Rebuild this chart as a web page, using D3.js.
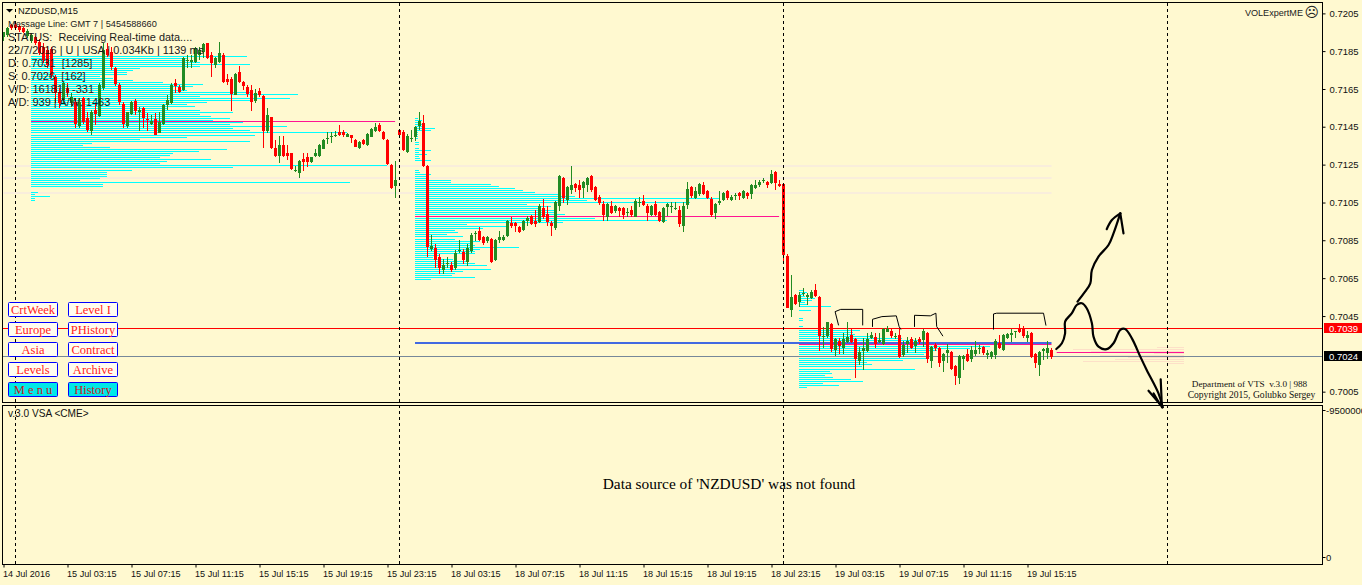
<!DOCTYPE html>
<html><head><meta charset="utf-8">
<script src="https://cdn.jsdelivr.net/npm/d3@7/dist/d3.min.js"></script>
<style>html,body{margin:0;padding:0;background:#fff9d0;overflow:hidden}svg{display:block}</style>
</head><body><svg id="c" width="1362" height="585"></svg>
<script>
// All prices in points (1e-5). Candle row = [open, close, high, low]; bar index = position in the joined list
const session15Jul = [
[71920,71943,71947,71899],[71929,71964,71973,71920],[71982,71964,71987,71955],[71982,71964,71987,71959],[71977,71956,71982,71947],
[71964,71947,71973,71938],[71924,71952,71959,71912],[71899,71929,71938,71889],[71917,71886,71924,71877],[71894,71833,71906,71824],
[71868,71798,71886,71780],[71851,71772,71868,71754],[71854,71719,71868,71702],[71707,71623,71719,71570],[71632,71570,71649,71544],
[71588,71676,71684,71570],[71649,71623,71676,71606],[71570,71606,71623,71553],[71579,71462,71597,71439],[71452,71579,71597,71439],
[71597,71474,71606,71462],[71492,71431,71527,71422],[71427,71527,71536,71404],[71536,71515,71570,71457],[71506,71667,71676,71497],
[71649,71851,71886,71640],[71854,71824,71886,71815],[71842,71763,71868,71746],[71758,71670,71763,71662],[71667,71579,71676,71562],
[71567,71462,71579,71439],[71452,71523,71527,71439],[71515,71579,71584,71509],[71583,71530,71591,71509],[71527,71536,71550,71427],
[71548,71495,71553,71439],[71488,71483,71518,71427],[71462,71478,71509,71457],[71488,71406,71518,71404],[71416,71474,71527,71413],
[71462,71560,71567,71457],[71562,71588,71614,71536],[71574,71667,71676,71567],[71676,71662,71697,71623],[71654,71632,71667,71623],
[71640,71807,71812,71637],[71791,71798,71824,71754],[71787,71798,71824,71754],[71789,71859,71868,71780],[71824,71851,71868,71798],
[71842,71880,71889,71807],[71886,71807,71889,71802],[71824,71784,71842,71707],[71772,71807,71815,71754],[71789,71836,71894,71780],
[71824,71681,71833,71676],[71698,71684,71724,71667],[71698,71620,71711,71532],[71616,71724,71731,71612],[71735,71684,71767,71676],
[71681,71663,71689,71640],[71658,71620,71667,71606],[71640,71579,71667,71532],[71581,71623,71644,71570],[71637,71614,71649,71606],
[71609,71427,71613,71334],[71425,71509,71544,71413],[71497,71334,71501,71329],[71334,71294,71378,71290],[71294,71350,71399,71256],
[71350,71294,71399,71290],[71311,71294,71352,71273],[71308,71226,71311,71220],[71215,71220,71243,71212],[71203,71268,71273,71177],
[71276,71263,71308,71215],[71287,71264,71308,71238],[71263,71287,71290,71259],[71294,71311,71331,71290],[71294,71350,71357,71290],
[71332,71378,71381,71329],[71383,71388,71422,71357],[71394,71399,71418,71360],[71401,71406,71427,71392],[71418,71404,71457,71399],
[71422,71404,71431,71392],[71395,71409,71413,71392],[71402,71387,71406,71364],[71378,71343,71381,71340],[71334,71369,71373,71331],
[71378,71357,71381,71352],[71350,71409,71413,71347],[71395,71434,71439,71392],[71425,71445,71466,71422],[71457,71427,71466,71422],
[71422,71383,71427,71378],[71378,71252,71381,71247],[71247,71124,71252,71119],[71136,71168,71268,71075]];
const session18Jul = [
[71431,71404,71434,71399],[71420,71325,71431,71322],[71315,71399,71410,71311],[71383,71390,71431,71367],[71395,71444,71451,71374],
[71452,71478,71525,71431],[71466,71241,71509,71238],[71241,70818,71247,70765],[70808,70822,70879,70797],[70809,70748,70832,70708],
[70762,70708,70780,70675],[70695,70720,70753,70675],[70727,70734,70762,70704],[70720,70695,70736,70685],[70708,70787,70801,70695],
[70794,70801,70853,70787],[70790,70748,70804,70727],[70738,70811,70832,70716],[70795,70879,70888,70787],[70885,70892,70900,70850],
[70900,70853,70921,70848],[70869,70836,70874,70827],[70848,70869,70874,70836],[70858,70738,70862,70734],[70748,70853,70858,70745],
[70853,70869,70900,70836],[70853,70869,70879,70850],[70874,70953,70958,70867],[70942,70927,70976,70914],[70942,70927,70948,70897],
[70921,70895,70927,70892],[70906,70953,70958,70900],[70953,70969,70979,70927],[70979,70937,70984,70934],[70953,70937,71011,70923],
[70948,71032,71042,70944],[71021,70974,71068,70963],[70990,70948,71032,70927],[70942,70927,70954,70874],[70916,71053,71058,70906],
[71032,71189,71193,71005],[71179,71074,71182,71046],[71063,71131,71137,71037],[71115,71142,71241,71095],[71147,71126,71151,71105],
[71142,71115,71168,71074],[71126,71157,71161,71075],[71142,71179,71182,71105],[71189,71115,71193,71105],[71131,71063,71135,71060],
[71079,71047,71089,71037],[71042,70984,71058,70953],[70976,71042,71046,70953],[71032,70995,71058,70990],[71005,71032,71037,70995],
[71021,71005,71024,70976],[71021,70984,71024,70963],[70997,71002,71021,70976],[71010,70984,71032,70974],[70976,71058,71068,70972],
[71049,71054,71079,71026],[71058,71037,71089,71032],[71032,70995,71042,70953],[70984,71032,71035,70981],[71042,70984,71058,70979],
[71000,70953,71005,70948],[70948,71021,71024,70944],[71026,71042,71046,70979],[71026,71032,71053,70995],[71016,71021,71053,71010],
[71010,70937,71032,70921],[70927,71032,71053,70895],[71037,71121,71157,71016],[71131,71084,71135,71074],[71074,71110,71130,71070],
[71095,71147,71151,71084],[71142,71095,71157,71091],[71110,71074,71114,71070],[71068,70984,71079,70974],[70995,71042,71046,70963],
[71047,71058,71110,71037],[71063,71100,71103,71060],[71110,71074,71114,71063],[71063,71079,71089,71060],[71086,71091,71100,71063],
[71100,71084,71103,71063],[71074,71110,71114,71070],[71100,71084,71103,71068],[71095,71142,71145,71068],[71126,71142,71168,71122],
[71142,71157,71168,71133],[71164,71170,71179,71152],[71157,71142,71161,71126],[71152,71199,71220,71149],[71210,71152,71214,71115],
[71147,71137,71168,71133],[71147,70774,71151,70731]];
const session19Jul = [
[70770,70498,70780,70495],[70486,70554,70668,70451],[70565,70517,70570,70514],[70528,70565,70582,70500],[70570,70577,70600,70560],
[70556,70563,70573,70512],[70547,70579,70591,70542],[70591,70559,70623,70556],[70554,70349,70558,70271],[70342,70349,70398,70285],
[70349,70421,70425,70337],[70412,70281,70416,70267],[70276,70334,70337,70245],[70323,70297,70337,70253],[70285,70332,70363,70255],
[70318,70346,70421,70314],[70355,70318,70390,70314],[70334,70229,70337,70127],[70218,70265,70293,70197],[70271,70287,70337,70171],
[70271,70334,70363,70267],[70339,70355,70369,70336],[70344,70307,70363,70288],[70320,70327,70363,70311],[70307,70386,70390,70304],
[70372,70386,70402,70369],[70376,70349,70390,70337],[70342,70349,70363,70332],[70355,70239,70390,70236],[70250,70302,70325,70241],
[70307,70323,70346,70258],[70334,70287,70346,70281],[70297,70323,70337,70262],[70334,70318,70346,70307],[70328,70376,70386,70293],
[70365,70229,70369,70206],[70218,70292,70295,70180],[70302,70287,70314,70271],[70287,70208,70290,70189],[70218,70255,70258,70162],
[70260,70276,70307,70206],[70266,70176,70269,70171],[70192,70139,70195,70092],[70129,70245,70248,70098],[70229,70245,70248,70171],
[70255,70218,70281,70215],[70229,70276,70299,70215],[70255,70276,70323,70245],[70280,70287,70302,70255],[70292,70260,70295,70250],
[70252,70259,70276,70229],[70239,70265,70269,70229],[70250,70323,70332,70229],[70313,70287,70355,70283],[70276,70355,70358,70271],
[70339,70360,70363,70335],[70356,70363,70386,70318],[70369,70374,70376,70339],[70386,70371,70412,70367],[70386,70349,70402,70339],
[70339,70355,70376,70318],[70365,70239,70369,70236],[70255,70208,70258,70183],[70197,70265,70269,70139],[70273,70280,70285,70223],
[70260,70287,70323,70229],[70276,70239,70287,70229]];

// Volume profiles: one volume per price level, from the top level downward.
// "Skip" lists the rows after which one price-grid pixel is skipped (price grid does not land evenly on pixels).
const profileStep = 10.5;
const profileATop = 71819, profileAStartBar = 6.88, profileASkip = [39,56];
const profileA = [216,156,156,169,219,169,109,102,96,96,69,82,102,132,172,162,142,156,222,267,169,259,222,176,156,164,136,169,202,169,180,199,182,212,199,256,202,219,316,224,156,109,219,61,52,79,196,168,142,139,129,180,136,129,356,202,101,76,76,76,69,49,319,72,72,0,0,7,4,19,4,4];
const profileBTop = 71494, profileBStartBar = 102.88, profileBSkip = [60];
const profileB = [3,7,4,10,10,20,16,3,3,3,3,0,4,4,0,4,16,4,12,4,5,16,0,0,0,0,4,5,16,11,12,36,36,76,84,100,108,120,144,160,305,172,275,112,136,125,140,142,150,130,180,252,148,52,92,68,40,43,32,48,40,65,57,60,104,65,60,60,25,18,38,52,60,72,35,76,48,40,37,60,16];
const profileCTop = 70590, profileCStartBar = 198.88, profileCSkip = [39];
const profileC = [4,8,4,6,16,13,6,9,32,0,12,0,0,0,4,4,0,0,4,0,61,54,56,71,103,119,101,140,191,171,138,128,125,131,128,104,68,73,63,116,31,33,26,34,52,64,24,40,8];
const profileDTop = 70291, profileDEndBar = 295.12;
const profileD = [27,111,93,30,84,56,69,101,17];

const pocLines = [[6.88,97.9,71478],[102.88,193.9,70978],[198.88,262,70307],[263.3,295.12,70264]];
const paleBands = [71242,71179,71100];
const paleStartBar = 0, paleEndBar = 262;
const redLevel = 70391, greyLevel = 70242, blueLevel = 70312, blueStartBar = 102.88, blueEndBar = 262;
const daySeparators = [3,99,195,291];

const timeTickBars = [0,16,32,48,64,80,96,112,128,144,160,176,192,208,224,240,256];
const timeTickLabels = ["14 Jul 2016","15 Jul 03:15","15 Jul 07:15","15 Jul 11:15","15 Jul 15:15","15 Jul 19:15","15 Jul 23:15","18 Jul 03:15","18 Jul 07:15","18 Jul 11:15","18 Jul 15:15","18 Jul 19:15","18 Jul 23:15","19 Jul 03:15","19 Jul 07:15","19 Jul 11:15","19 Jul 15:15"];
const priceTicks = [72043,71845,71646,71448,71249,71050,70852,70653,70454,70057];
const priceTickLabels = ["0.7205","0.7185","0.7165","0.7145","0.7125","0.7105","0.7085","0.7065","0.7045","0.7005"];
const infoLines = ["Message Line: GMT 7 | 5454588660","STATUS:  Receiving Real-time data....","22/7/2016 | U | USA | 0.034Kb | 1139 ms","D: 0.7031  [1285]","S: 0.7026  [162]","V/D: 16181 | -331","A/D: 939 | A/W: 1463"];
const buttonCol1 = ["CrtWeek","Europe","Asia","Levels","M e n u"];
const buttonCol2 = ["Level I","PHistory","Contract","Archive","History"];

// Hand-drawn pen strokes: [bar, price]
const penThick = [
 [[263.2,70281],[264.6,70311],[265.4,70363],[265.4,70425],[267.1,70469],[268.3,70512],[269.6,70521],[270.8,70495],[272.1,70416],[272.5,70346],[273.75,70293],[275.8,70280],[277.5,70311],[279.2,70381],[280.4,70386],[282.1,70337],[284.2,70241],[285.8,70171],[288.75,70048],[289.8,69975]],
 [[268.5,70530],[270.4,70582],[271.7,70626],[272.1,70696],[273.75,70766],[276.25,70827],[277.5,70888],[279.2,70993]],
 [[279.2,70993],[280,70888]],
 [[279.2,70993],[277.1,70958],[275.8,70910]],
 [[289.3,70122],[289.6,69975]],
 [[286.25,70062],[289.8,69975]],
 [[287.5,70048],[289.2,69987]]];
const penThin = [
 [[208.75,70407],[207.9,70477],[209.3,70489],[214.8,70489],[214.8,70407]],
 [[217.25,70399],[217.25,70437],[219.6,70451],[223.2,70455],[223.9,70399],[224.3,70385]],
 [[227.75,70399],[227.75,70458],[231.7,70455],[233.1,70469],[233.3,70399],[234.8,70350]],
 [[247.5,70385],[247.5,70465],[248.3,70469],[260,70469],[260.6,70406]]];

const candles = session15Jul.concat(session18Jul, session19Jul);
const UP="#228b22", DOWN="#ff0000", CYAN="#00ffff", SANS="'Liberation Sans',sans-serif", SERIF="'Liberation Serif',serif";

const svg = d3.select("#c");
const x = d3.scaleLinear().domain([0,1]).range([3.5,7.5]);
const y = d3.scaleLinear().domain([70050,71100]).range([393,193]);
const vol = d3.scaleLinear().domain([0,100]).range([0,100]);
const RIGHT=1322.5, MAINB=402.5, SUBT=405.5, SUBB=564.5;

svg.append("defs").append("clipPath").attr("id","main").append("rect").attr("x",3).attr("y",3).attr("width",RIGHT-3).attr("height",MAINB-3);
const plot = svg.append("g").attr("clip-path","url(#main)");

// pale bands
plot.selectAll(".band").data(paleBands).join("rect")
 .attr("x",x(paleStartBar)).attr("width",x(paleEndBar)-x(paleStartBar)).attr("y",d=>Math.round(y(d))-1).attr("height",2).attr("fill","#f9eedc");

// profiles
function profile(rows,top,startBar,skip){
 plot.append("g").attr("shape-rendering","crispEdges").selectAll("rect").data(rows).join("rect")
  .attr("x",Math.round(x(startBar))).attr("y",(d,i)=>Math.round(y(top-profileStep*i))+skip.filter(s=>i>=s).length)
  .attr("width",d=>vol(d)).attr("height",1).attr("fill",CYAN);
}
profile(profileA,profileATop,profileAStartBar,profileASkip);
profile(profileB,profileBTop,profileBStartBar,profileBSkip);
profile(profileC,profileCTop,profileCStartBar,profileCSkip);

// levels
plot.append("rect").attr("x",3).attr("width",RIGHT-3).attr("y",Math.round(y(redLevel))).attr("height",1).attr("fill","#ff0000");
plot.append("rect").attr("x",3).attr("width",RIGHT-3).attr("y",Math.round(y(greyLevel))).attr("height",1).attr("fill","#778899");
plot.append("g").attr("shape-rendering","crispEdges").selectAll("rect").data(profileD).join("rect")
 .attr("x",d=>x(profileDEndBar)-vol(d)).attr("y",(d,i)=>Math.round(y(profileDTop-profileStep*i)))
 .attr("width",d=>vol(d)).attr("height",1).attr("fill","#fde0c8");
plot.append("rect").attr("x",x(blueStartBar)).attr("width",x(blueEndBar)-x(blueStartBar)).attr("y",Math.round(y(blueLevel))-1).attr("height",2).attr("fill","#4169e1");
plot.append("g").selectAll("rect").data(pocLines).join("rect")
 .attr("x",d=>x(d[0])).attr("width",d=>x(d[1])-x(d[0])).attr("y",d=>Math.round(y(d[2]))).attr("height",1).attr("fill","#ff1493");

// candles
const cg = plot.append("g").attr("shape-rendering","crispEdges");
cg.selectAll(".w").data(candles).join("rect")
 .attr("x",(d,i)=>Math.floor(x(i))).attr("width",1)
 .attr("y",d=>y(d[2])).attr("height",d=>Math.max(1,y(d[3])-y(d[2])))
 .attr("fill",d=>d[1]>=d[0]?UP:DOWN);
cg.selectAll(".b").data(candles).join("rect")
 .attr("x",(d,i)=>Math.floor(x(i))-1).attr("width",3)
 .attr("y",d=>y(Math.max(d[0],d[1]))).attr("height",d=>Math.max(1,Math.abs(y(d[0])-y(d[1]))))
 .attr("fill",d=>d[1]>=d[0]?UP:DOWN);

// day separators
svg.append("g").selectAll("line").data(daySeparators).join("line")
 .attr("x1",d=>x(d)).attr("x2",d=>x(d)).attr("y1",3).attr("y2",SUBB)
 .attr("stroke","#000").attr("stroke-width",1).attr("stroke-dasharray","3,3");

// pen strokes
const pen = d3.line().x(d=>x(d[0])).y(d=>y(d[1]));
const penSmooth = d3.line().x(d=>x(d[0])).y(d=>y(d[1])).curve(d3.curveCatmullRom.alpha(0.5));
const penG = svg.append("g").attr("fill","none").attr("stroke","#000").attr("stroke-linejoin","round").attr("stroke-linecap","round");
penG.selectAll(".t").data(penThick).join("path").attr("d",penSmooth).attr("stroke-width",2.2);
penG.selectAll(".n").data(penThin).join("path").attr("d",pen).attr("stroke-width",1);

// frames
svg.append("rect").attr("x",2.5).attr("y",2.5).attr("width",RIGHT-2.5).attr("height",MAINB-2.5).attr("fill","none").attr("stroke","#000");
svg.append("rect").attr("x",2.5).attr("y",SUBT).attr("width",RIGHT-2.5).attr("height",SUBB-SUBT).attr("fill","none").attr("stroke","#000");

// axes
const axisR = d3.axisRight(y).tickValues(priceTicks).tickFormat((d,i)=>priceTickLabels[i]).tickSize(3).tickPadding(3);
const ag = svg.append("g").attr("transform",`translate(${RIGHT},0)`).call(axisR);
const axisB = d3.axisBottom(x).tickValues(timeTickBars).tickFormat((d,i)=>timeTickLabels[i]).tickSize(3).tickPadding(3);
const bg = svg.append("g").attr("transform",`translate(0,${SUBB})`).call(axisB);
[ag,bg].forEach(g=>{g.select(".domain").remove();g.selectAll("text").attr("fill","#111").attr("font-family",SANS).attr("font-size",9.5);g.selectAll("line").attr("stroke","#000");});
bg.selectAll("text").attr("text-anchor","start").attr("font-size",9.1).attr("dx",-1).attr("dy","1em").attr("y",3.5);
ag.selectAll("text").attr("x",7);

// sub-panel scale labels
[["-9500000",410],["0",557]].forEach(([t,py])=>{
 svg.append("line").attr("x1",RIGHT).attr("x2",RIGHT+3).attr("y1",py+.5).attr("y2",py+.5).attr("stroke","#000");
 svg.append("text").attr("x",1326).attr("y",py+4).attr("font-family",SANS).attr("font-size",9.5).attr("fill","#111").text(t);
});

// price tags
function tag(price,fill,label){
 const py=Math.round(y(price));
 svg.append("rect").attr("x",1324).attr("y",py-5).attr("width",38).attr("height",10).attr("fill",fill);
 svg.append("text").attr("x",1329).attr("y",py+3.5).attr("font-family",SANS).attr("font-size",9.5).attr("fill","#fff").text(label);
}
tag(redLevel,"#ff0000","0.7039");
tag(greyLevel,"#000000","0.7024");

// header
svg.append("path").attr("d",d3.line()([[6,9],[13,9],[9.5,12.5]])+"Z").attr("fill","#000");
svg.append("text").attr("x",18).attr("y",14).attr("font-family",SANS).attr("font-size",9.4).attr("fill","#111").text("NZDUSD,M15");
const sizes=[9.2,10.9,10.95,11,11,11,11];
svg.append("g").selectAll("text").data(infoLines).join("text")
 .attr("x",8).attr("y",(d,i)=>i==0?27:27+13*i+0.5).style("white-space","pre")
 .attr("font-family",SANS).attr("font-size",(d,i)=>sizes[i]).attr("fill","#1a1a1a").text(d=>d);
svg.append("text").attr("x",8).attr("y",417).attr("font-family",SANS).attr("font-size",10.1).attr("fill","#111").text("v.3.0 VSA <CME>");
svg.append("text").attr("x",1303).attr("y",15.5).attr("text-anchor","end").attr("font-family",SANS).attr("font-size",9.1).attr("fill","#222").text("VOLExpertME");
svg.append("text").attr("x",1311.8).attr("y",16.5).attr("text-anchor","middle").attr("font-family","'DejaVu Sans'").attr("font-size",14).attr("fill","#222").text("\u2639");
svg.append("text").attr("x",1249.5).attr("y",387).attr("text-anchor","middle").style("white-space","pre").attr("font-family",SERIF).attr("font-size",9.2).attr("fill","#111").text("Department of VTS  v.3.0 | 988");
svg.append("text").attr("x",1251.5).attr("y",398).attr("text-anchor","middle").attr("font-family",SERIF).attr("font-size",9.6).attr("fill","#111").text("Copyright 2015, Golubko Sergey");
svg.append("text").attr("x",729).attr("y",489).attr("text-anchor","middle").attr("font-family",SERIF).attr("font-size",15.4).attr("fill","#000").text("Data source of 'NZDUSD' was not found");

// buttons
function buttons(labels,bx){
 const g=svg.append("g").selectAll("g").data(labels).join("g").attr("transform",(d,i)=>`translate(${bx},${302.5+20*i})`);
 g.append("rect").attr("width",49).attr("height",14).attr("rx",1).attr("fill",(d,i)=>i==4?"#00e8e8":"#fffdf0").attr("stroke","#0000ff");
 g.append("text").attr("x",24.5).attr("y",11).attr("text-anchor","middle").attr("font-family",SERIF).attr("font-size",12.5).attr("fill",(d,i)=>i==4?"#c81818":"#ff1a1a").text(d=>d);
}
buttons(buttonCol1,8.5);
buttons(buttonCol2,68.5);
</script></body></html>
